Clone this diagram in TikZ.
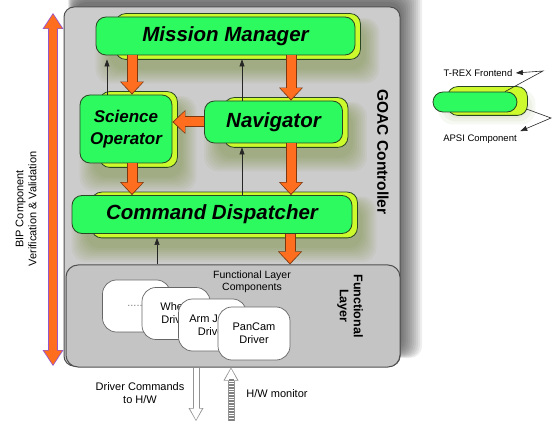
\documentclass[tikz,border=0pt]{standalone}
\usepackage{fontspec}
\setmainfont{Liberation Sans}
\usetikzlibrary{positioning,arrows.meta}

\definecolor{trexgreen}{RGB}{45,250,95}
\definecolor{apsiyellow}{RGB}{205,250,45}
\definecolor{boxline}{RGB}{40,70,35}
\definecolor{flow}{RGB}{255,110,30}
\definecolor{flowline}{RGB}{125,55,15}
\definecolor{bipline}{RGB}{150,85,205}
\definecolor{ctrlfill}{RGB}{204,204,204}
\definecolor{ctrlline}{RGB}{80,80,80}
\definecolor{flfill}{RGB}{196,196,196}
\definecolor{glowolive}{RGB}{95,125,15}

\pgfdeclarelayer{back}
\pgfdeclarelayer{mid}
\pgfsetlayers{back,mid,main}

\tikzset{
  comp/.style={draw=boxline, fill=trexgreen, line width=0.8pt, rounded corners=10pt,
    inner sep=0pt, align=center, font=\bfseries\itshape\fontsize{20.5}{22}\selectfont},
  apsi/.style={draw=boxline, fill=apsiyellow, line width=0.8pt, rounded corners=10pt},
  glow/.style={fill=glowolive, opacity=0.055, rounded corners=14pt},
  fatarr/.style={draw=flow, line width=9pt, shorten >=1.4pt,
    -{Triangle[width=21pt,length=11pt,line width=0pt]},
    preaction={draw=flowline, line width=11pt, shorten >=0pt,
      -{Triangle[width=24pt,length=13pt,line width=0pt]}}},
  biparr/.style={draw=flow, line width=8pt, shorten >=1.4pt, shorten <=1.4pt,
    {Triangle[width=18pt,length=14pt,line width=0pt]}-{Triangle[width=18pt,length=14pt,line width=0pt]},
    preaction={draw=bipline, line width=10pt, shorten >=0pt, shorten <=0pt,
      {Triangle[width=21pt,length=16pt,line width=0pt]}-{Triangle[width=21pt,length=16pt,line width=0pt]}}},
  hollowarr/.style={draw=white, line width=5pt, shorten >=1.3pt,
    -{Triangle[width=12pt,length=11pt,line width=0pt]},
    preaction={draw=gray!85, line width=7pt, shorten >=0pt,
      -{Triangle[width=15pt,length=13pt,line width=0pt]}}},
  hatcharr/.style={hollowarr,
    postaction={draw=gray, line width=5pt, arrows=-, shorten >=11pt,
      dash pattern=on 0.7pt off 0.9pt}},
  thinarr/.style={draw=black!85, line width=0.6pt, shorten >=4pt,
    -{Triangle[width=5pt,length=7pt]}},
  driver/.style={draw=black!60, fill=white, line width=0.7pt, rounded corners=14pt,
    minimum width=68pt, minimum height=52pt, align=center,
    font=\fontsize{11}{13}\selectfont},
  small/.style={font=\fontsize{10.5}{12.5}\selectfont, align=center},
  tiny/.style={font=\fontsize{9.5}{11}\selectfont, align=center}
}

\begin{document}
\begin{tikzpicture}[x=1pt,y=-1pt]
  \useasboundingbox (0,0) rectangle (552,422);

  % controller frame with its shadow
  \begin{pgfonlayer}{back}
    \foreach \g in {0,2,...,20}
      \fill[black,opacity=0.065,rounded corners=12pt] (74-0.3*\g,2-\g) rectangle (402+\g,352+0.3*\g);
    \node[draw=ctrlline, fill=ctrlfill, line width=1pt, rounded corners=10pt,
      minimum width=336pt, minimum height=359pt] (ctrl) at (232,186.5) {};
  \end{pgfonlayer}

  % T-REX components
  \node[comp, minimum width=259pt, minimum height=38pt] (mm) at (225.5,36) {Mission Manager};
  \node[comp, minimum width=92pt, minimum height=68pt,
    font=\bfseries\itshape\fontsize{17}{22}\selectfont] (so) at (126,129) {Science\\Operator};
  \node[comp, minimum width=138pt, minimum height=42pt] (nav) at (273.5,122) {Navigator};
  \node[comp, minimum width=280pt, minimum height=38pt] (cd) at (212,214.5) {Command Dispatcher};
  \node[font=\bfseries\fontsize{15.5}{17}\selectfont, rotate=-90] (goac) at (383,152) {GOAC Controller};

  % functional layer
  \node[draw=ctrlline, fill=flfill, line width=1pt, rounded corners=12pt,
    minimum width=334pt, minimum height=102pt] (fl) at (233,316) {};
  \node[small] (flc) at (252,282) {Functional Layer\\Components};
  \node[font=\bfseries\fontsize{12.5}{14}\selectfont, align=center, rotate=-90] (fll) at (350,306) {Functional\\Layer};
  \node[driver] (d1) at (136.5,306) {\textcolor{gray}{......}};
  \node[driver] (d2) at (176,313.5) {Wheel\\Driver};
  \node[driver] (d3) at (212.5,325) {Arm Joint\\Driver};
  \node[driver, minimum width=72pt, minimum height=53pt] (d4) at (254,333.5) {PanCam\\Driver};

  % legend
  \node[comp, minimum width=84pt, minimum height=20pt] (lgd) at (475,102) {};
  \node[tiny] (trex) at (478,73) {T-REX Frontend};
  \node[tiny] (apsilbl) at (480,139) {APSI Component};
  \coordinate (k1) at (543,71);
  \coordinate (k2) at (551,118);
  \draw[thinarr, shorten >=0pt] ([xshift=30pt]lgd.north) -- (k1) -- (trex.east);
  \draw[thinarr, shorten >=0pt] ([shift={(9pt,-7pt)}]lgd.east) -- (k2) -- (apsilbl.north east);

  % glow and APSI shadows
  \begin{pgfonlayer}{mid}
    \foreach \n in {mm,so,nav,cd}
      \foreach \g in {0pt,2pt,...,14pt}
        \fill[glow] ([shift={(14pt-\g,-10pt+0.6*\g)}]\n.north west) rectangle ([shift={(10pt+\g,-14pt-\g)}]\n.south east);
    \foreach \g in {0pt,3pt,6pt}
      \fill[glow] ([shift={(12pt-\g,-4pt+\g)}]lgd.north west) rectangle ([shift={(12pt+\g,-6pt-\g)}]lgd.south east);
    \foreach \n in {mm,so,nav,cd}
      \filldraw[apsi] ([shift={(20pt,3pt)}]\n.north west) rectangle ([shift={(5pt,-4pt)}]\n.south east);
    \filldraw[apsi] ([shift={(15pt,5pt)}]lgd.north west) rectangle ([shift={(10pt,-3pt)}]lgd.south east);
  \end{pgfonlayer}

  % goal and command flow
  \draw[fatarr] ([xshift=6pt]so.north |- mm.south) -- ([xshift=6pt]so.north);
  \draw[fatarr] ([xshift=17.5pt]nav.north |- mm.south) -- ([xshift=17.5pt]nav.north);
  \draw[fatarr] (nav.west) -- (nav.west -| so.east);
  \draw[fatarr] ([xshift=6pt]so.south) -- ([xshift=6pt]so.south |- cd.north);
  \draw[fatarr] ([xshift=17.5pt]nav.south) -- ([xshift=17.5pt]nav.south |- cd.north);
  \draw[fatarr] ([xshift=78pt]cd.south) -- ([xshift=78pt]cd.south |- fl.north);

  % observations
  \draw[thinarr] ([xshift=-19pt]so.north) -- ([xshift=-19pt]so.north |- mm.south);
  \draw[thinarr] ([xshift=-31.5pt]nav.south |- cd.north) -- ([xshift=-31.5pt]nav.south);
  \draw[thinarr] ([xshift=-31.5pt]nav.north) -- ([xshift=-31.5pt]nav.north |- mm.south);
  \draw[thinarr] ([xshift=-55pt]cd.south |- fl.north) -- ([xshift=-55pt]cd.south);

  % BIP
  \coordinate (biptop) at (53,13);
  \coordinate (bipbot) at (53,366);
  \draw[biparr] (biptop) -- (bipbot);
  \node[font=\fontsize{11}{13}\selectfont, align=center, rotate=90] (bip) at (26,209) {BIP Component\\Verification \& Validation};

  % hardware side
  \coordinate (cmdend) at (196,421);
  \coordinate (monstart) at (231,421);
  \draw[hollowarr] ([xshift=-37pt]fl.south) -- (cmdend);
  \draw[hatcharr] (monstart) -- (monstart |- fl.south);
  \node[small, font=\fontsize{11}{13}\selectfont] (drvcmd) at (140,393) {Driver Commands\\to H/W};
  \node[small, font=\fontsize{11}{13}\selectfont] (hwmon) at (277,394) {H/W monitor};
\end{tikzpicture}
\end{document}
